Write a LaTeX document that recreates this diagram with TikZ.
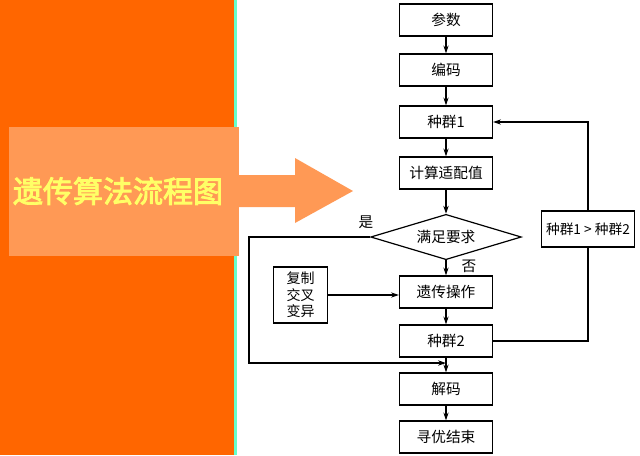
\documentclass[tikz,border=0pt]{standalone}
\usepackage{fontspec}
\newfontfamily\cjk[AutoFakeBold=3]{Noto Sans CJK SC}
\usetikzlibrary{shapes.geometric,arrows.meta}
\definecolor{deeporange}{HTML}{FF6600}
\definecolor{lightorange}{HTML}{FF9955}
\definecolor{aqua}{HTML}{66FFCC}
\definecolor{titleyellow}{HTML}{FFFF66}

\begin{document}
\begin{tikzpicture}[x=0.75pt,y=-0.75pt,
  box/.style={draw,line width=0.9pt,minimum width=69.75pt,minimum height=24pt,inner sep=0pt,font=\cjk\fontsize{11}{12}\selectfont},
  arr/.style={line width=0.8pt,-{Stealth[length=6pt,width=4pt]}},
  line/.style={line width=0.8pt}]
\useasboundingbox (0,0) rectangle (640,455);

% left panel
\fill[deeporange] (0,0) rectangle (234,455);
\fill[aqua] (234,0) rectangle (237,455);
\fill[lightorange] (9,127) rectangle (239,256);
\fill[lightorange] (239,175) -- (295,175) -- (295,158) -- (353,191) -- (295,223) -- (295,207) -- (239,207) -- cycle;
\node[text=titleyellow,font=\cjk\bfseries\fontsize{22.5}{26}\selectfont] (title) at (118,191) {遗传算法流程图};

% flow chart
\begin{scope}[every node/.style={box}]
\node (param) at (446,20) {参数};
\node (code) at (446,70) {编码};
\node (pop1) at (446,122) {种群1};
\node (fit) at (446,173) {计算适配值};
\node (gen) at (446,292) {遗传操作};
\node (pop2) at (446,341) {种群2};
\node (decode) at (446,389) {解码};
\node (finish) at (446,437) {寻优结束};
\node[minimum height=27pt,font=\cjk\fontsize{10.3}{12}\selectfont] (cmp) at (588,229) {种群1 > 种群2};
\end{scope}

\node[draw,diamond,aspect=3.36,line width=0.9pt,minimum width=113pt,minimum height=34pt,inner sep=0pt,font=\cjk\fontsize{11}{12}\selectfont] (judge) at (446,237) {满足要求};
\node[draw,line width=0.9pt,align=center,inner sep=0pt,minimum width=40pt,minimum height=42pt,font=\cjk\fontsize{10.5}{12.4}\selectfont] (ops) at (300.5,295) {复制\\交叉\\变异};

\node[font=\cjk\fontsize{11}{12}\selectfont] (yes) at (366,222) {是};
\node[font=\cjk\fontsize{11}{12}\selectfont] (no) at (469,266) {否};

\draw[arr] (param) -- (code);
\draw[arr] (code) -- (pop1);
\draw[arr] (pop1) -- (fit);
\draw[arr] (fit) -- (judge);
\draw[arr] (judge) -- (gen);
\draw[arr] (gen) -- (pop2);
\draw[arr] (pop2) -- (decode);
\draw[arr] (decode) -- (finish);
\draw[arr] (ops.east) -- (ops.east -| gen.west);
\draw[line] (pop2.east) -| (cmp.south);
\draw[arr] (cmp.north) |- (pop1.east);

\coordinate (yesleft) at (249,237);
\coordinate (join) at (446,363);
\draw[arr] (judge.west) -- (yesleft) |- (join);

\end{tikzpicture}
\end{document}
